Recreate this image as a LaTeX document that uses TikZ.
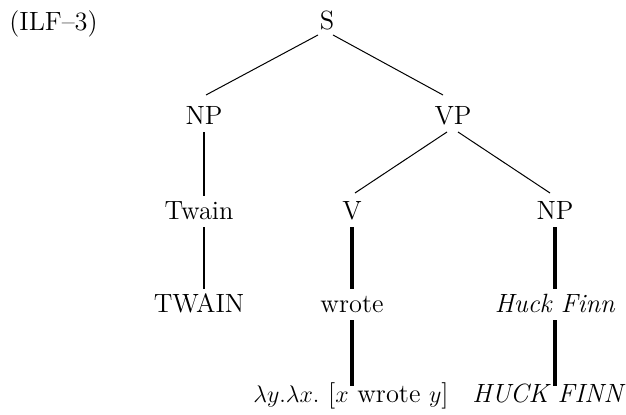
\documentclass[tikz,border=0pt]{standalone}
\usetikzlibrary{calc}
\begin{document}
\begin{tikzpicture}[x=0.5pt,y=-0.5pt,
  lbl/.style={anchor=base,inner sep=2.5pt,text height=9.5pt,text depth=1pt,font=\fontsize{13.2}{16}\selectfont},
  lowlbl/.style={lbl,text height=6pt},
  thinline/.style={line width=0.5pt},
  midline/.style={line width=1pt},
  thickline/.style={line width=1.6pt}]
\useasboundingbox (0,0) rectangle (626,415);
\node[lbl,anchor=base west,inner sep=0pt] (tag) at (9,31) {(ILF--3)};
\node[lbl] (S) at (327,30) {S};
\node[lbl] (NP) at (204,125) {NP};
\node[lbl] (VP) at (453,125) {VP};
\node[lbl] (Tw) at (199,220) {Twain};
\node[lbl] (V) at (352,220) {V};
\node[lbl] (NPb) at (555,220) {NP};
\node[lbl] (TW) at (199,313) {TWAIN};
\node[lbl] (wr) at (352,313) {wrote};
\node[lbl] (HF) at (555,313) {\textit{Huck Finn}};
\node[lowlbl] (lam) at (351,403) {$\lambda y.\lambda x.$ [$x$ wrote $y$]};
\node[lowlbl] (HFC) at (549,403) {\textit{HUCK FINN}};
\draw[thinline] ($(S.base)+(-9,5)$) -- ($(NP.base)+(2,-30)$);
\draw[thinline] ($(S.base)+(6,5)$) -- ($(VP.base)+(-10,-30)$);
\draw[thinline] ($(VP.base)+(-6,7)$) -- ($(V.base)+(3,-27)$);
\draw[thinline] ($(VP.base)+(5,7)$) -- ($(NPb.base)+(-5,-27)$);
\draw[midline] (NP.south) -- (NP.south |- Tw.north);
\draw[midline] (Tw.south -| NP.south) -- (NP.south |- TW.north);
\draw[thickline] (V) -- (wr);
\draw[thickline] (wr.south) -- (wr.south |- lam.north);
\draw[thickline] (NPb) -- (HF);
\draw[thickline] (HF.south) -- (HF.south |- HFC.north);
\end{tikzpicture}
\end{document}
